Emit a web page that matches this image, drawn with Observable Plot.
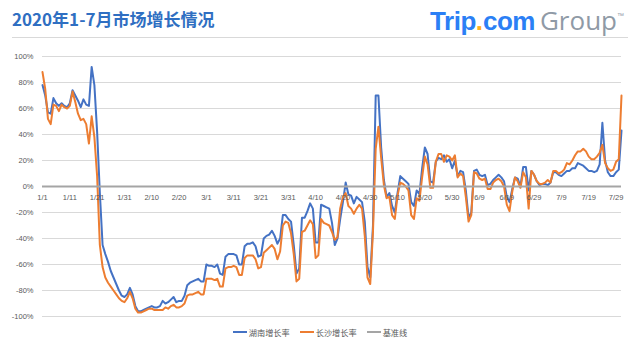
<!DOCTYPE html>
<html>
<head>
<meta charset="utf-8">
<script src="https://cdn.jsdelivr.net/npm/d3@7"></script>
<script src="https://cdn.jsdelivr.net/npm/@observablehq/plot@0.6"></script>
<style>
  html, body { margin: 0; padding: 0; background: #fff; }
  #page { position: relative; width: 640px; height: 359px; overflow: hidden; font-family: "Liberation Sans", "Noto Sans CJK SC", sans-serif; }
  #header { position: relative; height: 40px; }
  #title { position: absolute; left: 12px; top: 10px; line-height: 18px; font-size: 17px; font-weight: bold; color: #2f6fc2; font-family: "Noto Sans CJK SC", sans-serif; white-space: nowrap; }
  #logo { position: absolute; right: 16px; top: 3px; line-height: 26px; font-size: 26px; white-space: nowrap; font-family: "Liberation Sans", sans-serif; }
  #logo .b { color: #2b7ff5; font-weight: bold; letter-spacing: -0.5px; }
  #logo .d { color: #ffb11b; font-weight: bold; }
  #logo .g { color: #8f9aa6; font-family: "Open Sans", sans-serif; font-weight: 400; margin-left: 5px; }
  #logo sup { color: #8f9aa6; font-size: 7px; vertical-align: 12px; }
  #sep { position: absolute; left: 12px; top: 37px; width: 616px; height: 1px; background: #d9d9d9; }
  #chart svg { display: block; }
  #legend { display: flex; justify-content: center; align-items: center; height: 16px; font-size: 8.2px; color: #595959; font-family: "Noto Sans CJK SC", sans-serif; }
  #legend .item { display: flex; align-items: center; margin: 0 5px; }
  #legend .sw { width: 14px; height: 2px; margin-right: 2px; }
</style>
</head>
<body>
<div id="page">
  <div id="header">
    <div id="title">2020年1-7月市场增长情况</div>
    <div id="logo"><span class="b">Trip</span><span class="d">.</span><span class="b">com</span><span class="g">Group</span><sup>™</sup></div>
    <div id="sep"></div>
  </div>
  <div id="chart"></div>
  <div id="legend"></div>
</div>
<script>
const seriesNames = ["湖南增长率", "长沙增长率", "基准线"];
const seriesColors = ["#4472C4", "#ED7D31", "#A5A5A5"];

// daily values (%), 2020-01-01 .. 2020-07-31
const hunan = [
  78,70,57,56,68,64,62,64,62,61,
  64,74,70,66,61,67,63,62,92,78,
  42,-5,-45,-52,-58,-65,-70,-75,-80,-84,
  -85,-83,-78,-83,-92,-96,-96,-95,-94,-93,
  -92,-93,-93,-92,-88,-90,-89,-87,-85,-89,
  -88,-88,-84,-76,-74,-73,-72,-71,-73,-73,
  -60,-61,-61,-62,-60,-67,-68,-54,-52,-52,
  -52,-53,-60,-60,-46,-44,-44,-43,-46,-54,
  -53,-40,-38,-37,-34,-38,-44,-40,-22,-22,
  -25,-27,-45,-67,-63,-24,-24,-19,-13,-17,
  -43,-43,-14,-15,-16,-17,-28,-45,-40,-25,
  -12,3,-6,-7,-13,-8,-10,-12,-27,-62,
  -70,-30,70,70,30,5,-8,-5,-15,-20,
  -5,8,6,4,2,-12,-15,-3,-6,14,
  30,25,4,3,19,22,21,24,19,21,
  14,20,8,12,11,-3,-24,-20,12,13,
  9,8,9,1,2,5,7,9,7,4,
  -8,-12,-2,7,6,0,15,15,-3,12,
  9,4,1,2,2,1,3,11,11,9,
  8,10,12,12,14,14,18,17,16,14,
  12,12,11,12,17,49,20,11,8,8,
  11,13,43
];
const changsha = [
  88,75,52,48,63,62,58,63,61,60,
  62,73,65,56,51,52,48,33,54,38,
  8,-45,-62,-70,-74,-77,-80,-83,-86,-88,
  -89,-86,-81,-86,-94,-97,-97,-96,-95,-94,
  -94,-95,-95,-95,-95,-93,-94,-92,-91,-93,
  -93,-92,-90,-84,-83,-83,-82,-81,-83,-83,
  -71,-71,-71,-72,-71,-77,-77,-63,-62,-62,
  -61,-62,-68,-68,-55,-53,-53,-53,-56,-63,
  -62,-51,-49,-47,-45,-48,-56,-50,-30,-27,
  -28,-36,-52,-73,-71,-35,-34,-30,-26,-29,
  -55,-53,-25,-28,-29,-30,-35,-41,-39,-17,
  -8,-5,-15,-17,-21,-17,-14,-17,-38,-70,
  -75,-35,29,46,22,1,-9,-8,-22,-25,
  -7,3,2,0,-3,-22,-25,-9,-11,7,
  23,17,-1,-1,19,25,25,19,24,23,
  20,24,7,10,8,-8,-27,-22,11,10,
  6,5,6,-2,-2,3,5,6,4,0,
  -14,-19,-4,7,4,-1,11,7,-17,12,
  9,4,2,2,3,5,3,12,12,10,
  11,13,18,17,20,24,27,27,29,27,
  23,21,21,23,26,32,18,14,12,13,
  19,21,70
];
const baseline = [0];
const yTicks = [-100, -80, -60, -40, -20, 0, 20, 40, 60, 80, 100];
const xTickLabels = ["1/1","1/11","1/21","1/31","2/10","2/20","3/1","3/11","3/21","3/31","4/10","4/20","4/30","5/10","5/20","5/30","6/9","6/19","6/29","7/9","7/19","7/29"];

const dates = d3.utcDay.range(new Date(Date.UTC(2020, 0, 1)), new Date(Date.UTC(2020, 7, 1)));
const hunanData = dates.map((d, i) => ({date: d, value: hunan[i]}));
const changshaData = dates.map((d, i) => ({date: d, value: changsha[i]}));
const xTicks = xTickLabels.map((label, i) => ({date: dates[i * 10], label}));

const chart = Plot.plot({
  width: 640,
  height: 284,
  marginLeft: 42,
  marginRight: 19,
  marginTop: 16,
  marginBottom: 8,
  style: {fontFamily: "'Liberation Sans', 'Noto Sans CJK SC', sans-serif", background: "transparent"},
  x: {type: "utc", domain: [dates[0], dates[dates.length - 1]], axis: null},
  y: {domain: [-100, 100], axis: null},
  marks: [
    Plot.gridY(yTicks, {stroke: "#d9d9d9", strokeOpacity: 1, strokeWidth: 1}),
    Plot.axisY(yTicks, {tickSize: 0, tickPadding: 9, tickFormat: d => d + "%", fontSize: 7.5, color: "#595959", label: null}),
    Plot.line(hunanData, {x: "date", y: "value", stroke: seriesColors[0], strokeWidth: 2}),
    Plot.line(changshaData, {x: "date", y: "value", stroke: seriesColors[1], strokeWidth: 2}),
    Plot.ruleY(baseline, {stroke: seriesColors[2], strokeWidth: 2}),
    Plot.text(xTicks, {x: "date", y: () => 0, text: "label", dy: 11, fontSize: 7.5, fill: "#595959"})
  ]
});
document.getElementById("chart").appendChild(chart);

const legend = document.getElementById("legend");
seriesNames.forEach((name, i) => {
  const item = document.createElement("div");
  item.className = "item";
  const sw = document.createElement("span");
  sw.className = "sw";
  sw.style.background = seriesColors[i];
  const t = document.createElement("span");
  t.textContent = name;
  item.appendChild(sw);
  item.appendChild(t);
  legend.appendChild(item);
});
</script>
</body>
</html>
